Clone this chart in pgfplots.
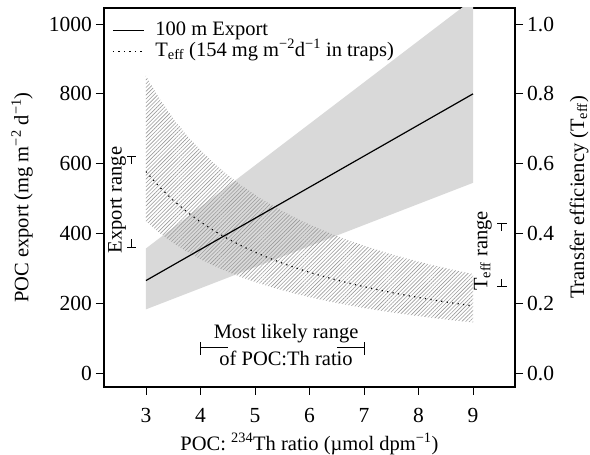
\documentclass[border=0pt]{standalone}
\usepackage{fontspec}
\setmainfont{Liberation Serif}
\usepackage{pgfplots}
\pgfplotsset{compat=1.18}
\usetikzlibrary{patterns.meta}
\definecolor{bandgray}{RGB}{217,217,217}
\definecolor{hatchgray}{RGB}{155,155,155}
\begin{document}
\fontsize{20.5}{24}\selectfont
\begin{tikzpicture}
\pgfplotsset{
  common/.style={
    scale only axis, width=411pt, height=379pt,
    xmin=2.23, xmax=9.77,
    font=\fontsize{20.5}{24}\selectfont,
    tick label style={font=\fontsize{21.5}{24}\selectfont},
    /pgf/number format/assume math mode=true,
    /pgf/number format/set thousands separator={},
    tick align=outside, major tick length=8pt,
    tick style={black, line width=0.8pt},
    axis line style={line width=1.5pt},
  }
}
\begin{axis}[common, ymin=-40, ymax=1046,
  xtick={3,4,5,6,7,8,9}, ytick={0,200,400,600,800,1000},
  xtick pos=left, ytick pos=left,
  xticklabel style={inner sep=1pt, yshift=-12pt},
  yticklabel style={inner sep=1pt, xshift=-3pt},
  xlabel={POC: \textsuperscript{234}Th ratio (µmol dpm\textsuperscript{−1})},
  xlabel style={at={(axis description cs:0.5,-0.1504)}, anchor=center},
  ylabel={POC export (mg m\textsuperscript{−2} d\textsuperscript{−1})},
  ylabel style={at={(axis description cs:-0.1995,0.5)}, anchor=center},
  legend style={at={(axis description cs:0.0195,1)}, anchor=north west, yshift=-12pt,
    draw=none, fill=none, inner sep=0pt, row sep=1pt, column sep=11pt,
    nodes={inner sep=0pt, anchor=west, text height=15pt, text depth=5pt},
    font=\fontsize{20.5}{24}\selectfont},
  legend cell align=left,
  legend image code/.code={\draw[#1] (0pt,0pt) -- (31pt,0pt);},
]
% confidence band of export
\addplot[forget plot, draw=none, fill=bandgray] coordinates {(3,182.5) (9,545) (9,1071) (3,357)} -- cycle;
% hatched Teff range
\addplot[forget plot, draw=none, pattern={Lines[angle=45, distance=2.7pt, line width=0.6pt]}, pattern color=hatchgray] coordinates {
(3,851.3) (3.25,785.8) (3.5,729.7) (3.75,681.1) (4,638.5) (4.25,600.9) (4.5,567.6) (4.75,537.7) (5,510.8) (5.25,486.5) (5.5,464.4) (5.75,444.2) (6,425.7) (6.25,408.6) (6.5,392.9) (6.75,378.4) (7,364.9) (7.25,352.3) (7.5,340.5) (7.75,329.5) (8,319.3) (8.25,309.6) (8.5,300.5) (8.75,291.9) (9,283.8)
(9,145.0) (8.75,149.1) (8.5,153.5) (8.25,158.2) (8,163.1) (7.75,168.4) (7.5,174.0) (7.25,180.0) (7,186.4) (6.75,193.3) (6.5,200.8) (6.25,208.8) (6,217.5) (5.75,227.0) (5.5,237.3) (5.25,248.6) (5,261.0) (4.75,274.7) (4.5,290.0) (4.25,307.1) (4,326.3) (3.75,348.0) (3.5,372.9) (3.25,401.5) (3,435.0)} -- cycle;
% 100 m export
\addplot[black, line width=1.2pt] coordinates {(3,265) (9,800)};
\addlegendentry{100 m Export}
% Teff
\addplot[black, line width=1.2pt, dash pattern=on 1.2pt off 4.3pt] coordinates {
(3,577.3) (3.25,532.9) (3.5,494.9) (3.75,461.9) (4,433.0) (4.25,407.5) (4.5,384.9) (4.75,364.6) (5,346.4) (5.25,329.9) (5.5,314.9) (5.75,301.2) (6,288.7) (6.25,277.1) (6.5,266.5) (6.75,256.6) (7,247.4) (7.25,238.9) (7.5,230.9) (7.75,223.5) (8,216.5) (8.25,209.9) (8.5,203.8) (8.75,197.9) (9,192.4)};
\addlegendentry{T\textsubscript{eff} (154 mg m\textsuperscript{−2}d\textsuperscript{−1} in traps)}
% most likely range bracket
\addplot[forget plot, black, line width=0.9pt] coordinates {(4,52) (4,88)};
\addplot[forget plot, black, line width=0.9pt] coordinates {(4,72) (4.5,72)};
\addplot[forget plot, black, line width=0.9pt] coordinates {(6.5,72) (7,72)};
\addplot[forget plot, black, line width=0.9pt] coordinates {(7,52) (7,88)};
% export range bracket
\addplot[forget plot, black, line width=0.9pt] coordinates {(2.66,622) (2.82,622)};
\addplot[forget plot, black, line width=0.9pt] coordinates {(2.74,622) (2.74,600)};
\addplot[forget plot, black, line width=0.9pt] coordinates {(2.66,361) (2.82,361)};
\addplot[forget plot, black, line width=0.9pt] coordinates {(2.74,361) (2.74,383)};
% Teff range bracket
\addplot[forget plot, black, line width=0.9pt] coordinates {(9.44,430) (9.62,430)};
\addplot[forget plot, black, line width=0.9pt] coordinates {(9.53,430) (9.53,408)};
\addplot[forget plot, black, line width=0.9pt] coordinates {(9.44,247) (9.62,247)};
\addplot[forget plot, black, line width=0.9pt] coordinates {(9.53,247) (9.53,269)};
\node[rotate=90, anchor=center] at (axis cs:2.47,496) {Export range};
\node[rotate=90, anchor=center] at (axis cs:9.18,350) {T\textsubscript{eff} range};
\node[align=center, font=\fontsize{20.5}{27}\selectfont, inner sep=0pt] at (axis cs:5.57,80) {Most likely range\\of POC:Th ratio};
\end{axis}
\begin{axis}[common, ymin=-0.04, ymax=1.046,
  axis x line=none, axis y line*=right,
  ytick={0,0.2,0.4,0.6,0.8,1},
  yticklabel style={inner sep=1pt, xshift=3pt, /pgf/number format/.cd, fixed, fixed zerofill, precision=1},
  ylabel={Transfer efficiency (T\textsubscript{eff})},
  ylabel style={at={(axis description cs:1.1557,0.5)}, anchor=center},
]
\end{axis}
\pgfresetboundingbox
\path[use as bounding box] (-104pt,-68pt) rectangle (486pt,387pt);
\end{tikzpicture}
\end{document}
